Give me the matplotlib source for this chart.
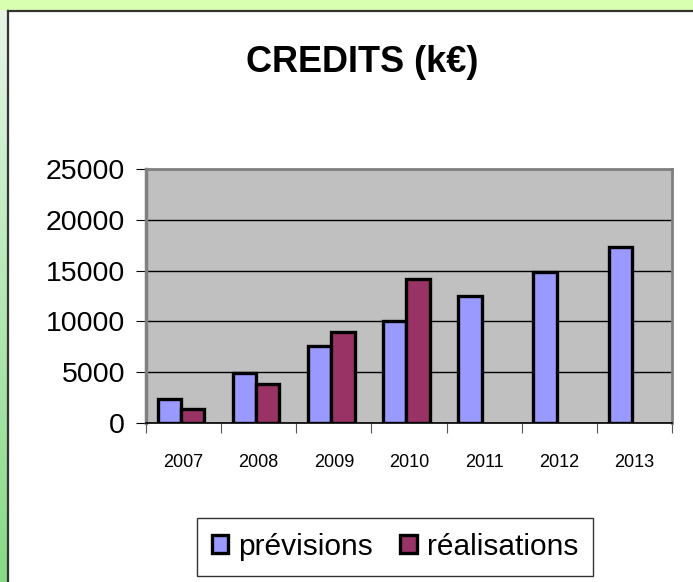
import numpy as np
import matplotlib
matplotlib.use("Agg")
import matplotlib.pyplot as plt
from matplotlib.patches import Rectangle
from matplotlib.colors import LinearSegmentedColormap

# data (k€)
years = ["2007", "2008", "2009", "2010", "2011", "2012", "2013"]
previsions = [2400, 4900, 7600, 10000, 12500, 14900, 17300]
realisations = [1400, 3800, 9000, 14200, np.nan, np.nan, np.nan]
yticks = [0, 5000, 10000, 15000, 20000, 25000]

plt.rcParams['font.family'] = ['Liberation Sans', 'DejaVu Sans']

W, H = 693, 582
fig = plt.figure(figsize=(W / 100, H / 100), dpi=100, facecolor='white')

# green frame around the chart (top strip + gradient on the left)
fig.patches.append(Rectangle((0, 1 - 10 / H), 1, 10 / H, transform=fig.transFigure,
                             facecolor='#D8FFB0', edgecolor='none', zorder=0))
gax = fig.add_axes([0, 0, 7 / W, 1 - 10 / H])
grad = np.linspace(0, 1, 256).reshape(-1, 1)
gcm = LinearSegmentedColormap.from_list('g', ['#E6F5E6', '#86DA86'])
gax.imshow(grad, aspect='auto', cmap=gcm)
gax.axis('off')
fig.add_artist(plt.Line2D([7.5 / W, 7.5 / W], [0, 1 - 10.5 / H], transform=fig.transFigure,
                          color='#333333', lw=1.6))
fig.add_artist(plt.Line2D([7.5 / W, 1], [1 - 10.5 / H, 1 - 10.5 / H], transform=fig.transFigure,
                          color='#333333', lw=1.6))

ax = fig.add_axes([146 / W, 1 - 423 / H, 526 / W, 254 / H])
ax.set_facecolor('#C0C0C0')

x = np.arange(len(years))
bw = 0.31
ax.bar(x - 0.19, previsions, bw, color='#9999FF', edgecolor='black', linewidth=2.4,
       label='prévisions', zorder=3)
ax.bar(x + 0.12, realisations, bw, color='#993366', edgecolor='black', linewidth=2.4,
       label='réalisations', zorder=3)

ax.set_xlim(-0.5, len(years) - 0.5)
ax.set_ylim(0, 25000)
ax.set_yticks(yticks)
ax.set_yticklabels([str(v) for v in yticks], fontsize=20.5)
ax.yaxis.grid(True, color='black', lw=1)
ax.set_axisbelow(True)

# category ticks between groups, labels centred
ax.set_xticks(np.arange(-0.5, len(years), 1.0))
ax.set_xticklabels([])
ax.set_xticks(x, minor=True)
ax.set_xticklabels(years, minor=True, fontsize=13)
ax.tick_params(axis='x', which='major', length=7, direction='out', color='#555555')
ax.tick_params(axis='x', which='minor', length=0, pad=22)
ax.tick_params(axis='y', length=7, direction='out', pad=8)

for side in ['top', 'right']:
    ax.spines[side].set_color('#808080')
    ax.spines[side].set_linewidth(2)
ax.spines['left'].set_color('#808080')
ax.spines['left'].set_linewidth(2.5)
ax.spines['bottom'].set_color('black')
ax.spines['bottom'].set_linewidth(1.2)

fig.text(362 / W, 1 - 62 / H, 'CREDITS (k€)', ha='center', va='center',
         fontsize=26, fontweight='bold')

leg = fig.legend(loc='center', bbox_to_anchor=(395 / W, 1 - 547 / H), ncol=2,
                 fontsize=21.5, frameon=True, fancybox=False, edgecolor='black',
                 handlelength=0.55, handleheight=0.55, handletextpad=0.35,
                 columnspacing=0.9, borderpad=0.5, borderaxespad=0)
leg.get_frame().set_linewidth(1)

fig.savefig('out.png', dpi=100, facecolor='white')
